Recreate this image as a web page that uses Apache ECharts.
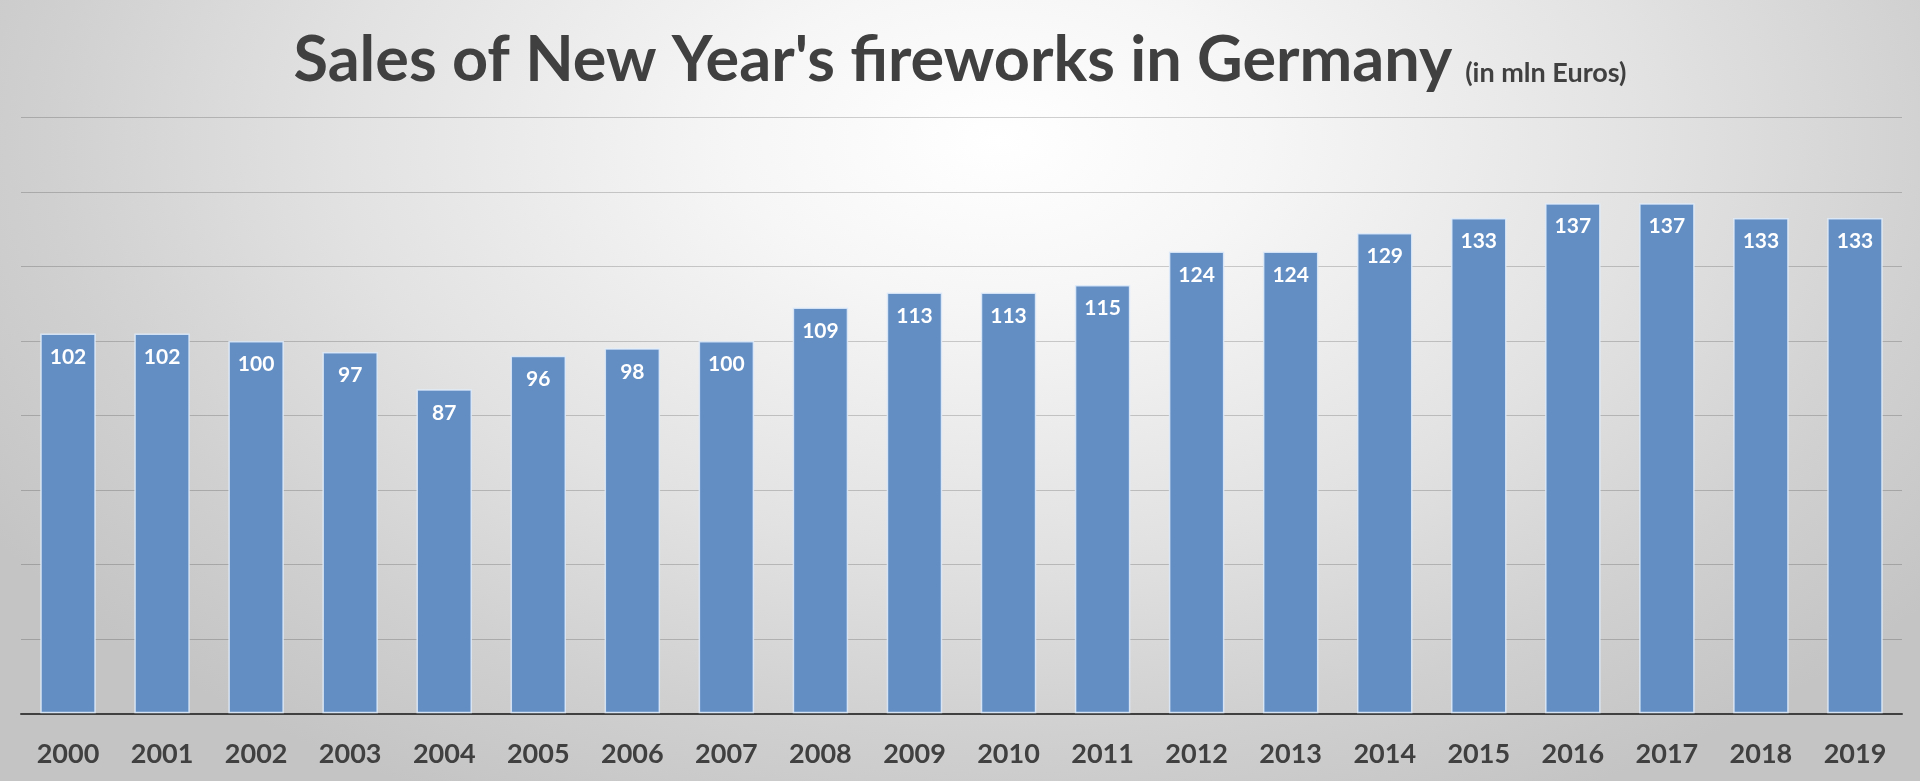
<!DOCTYPE html>
<html>
<head>
<meta charset="utf-8">
<script src="https://cdn.jsdelivr.net/npm/echarts@6/dist/echarts.min.js"></script>
<style>
  html, body { margin: 0; padding: 0; width: 1920px; height: 781px; overflow: hidden; }
  #chart {
    width: 1920px; height: 781px;
    background: radial-gradient(ellipse 62% 95% at 52% 18%, #ffffff 0%, #f6f6f6 22%, #e2e2e2 55%, #d0d0d0 80%, #c4c4c4 100%);
  }
</style>
</head>
<body>
<div id="chart"></div>
<script>
const years = ['2000','2001','2002','2003','2004','2005','2006','2007','2008','2009','2010','2011','2012','2013','2014','2015','2016','2017','2018','2019'];
const sales = [102,102,100,97,87,96,98,100,109,113,113,115,124,124,129,133,137,137,133,133];
const titleMain = "Sales of New Year's fireworks in Germany";
const titleSub = "(in mln Euros)";
const yMin = 0, yMax = 160, yStep = 20;

const chart = echarts.init(document.getElementById('chart'), null, { renderer: 'canvas' });
chart.setOption({
  backgroundColor: 'transparent',
  animation: false,
  title: {
    left: 'center',
    top: 24,
    text: '{a|' + titleMain + '}{b|' + titleSub + '}',
    textStyle: {
      rich: {
        a: { fontFamily: 'Lato', fontWeight: 'bold', fontSize: 63, color: '#404040', verticalAlign: 'bottom' },
        b: { fontFamily: 'Lato', fontWeight: 'bold', fontSize: 27, color: '#404040', verticalAlign: 'bottom', padding: [0, 0, 5, 13] }
      }
    }
  },
  grid: { left: 21, right: 18, top: 117.5, bottom: 67.7, containLabel: false },
  xAxis: {
    type: 'category',
    data: years,
    axisLine: { show: true, lineStyle: { color: '#404040', width: 2 } },
    axisTick: { show: false },
    axisLabel: { fontFamily: 'Lato', fontWeight: 'bold', fontSize: 27, color: '#404040', margin: 27 }
  },
  yAxis: {
    type: 'value',
    min: yMin, max: yMax, interval: yStep,
    axisLine: { show: false },
    axisTick: { show: false },
    axisLabel: { show: false },
    splitLine: { show: true, lineStyle: { color: 'rgba(0,0,0,0.18)', width: 1.2 } }
  },
  series: [{
    type: 'bar',
    data: sales,
    barCategoryGap: '41%',
    itemStyle: { color: '#628ec4', borderColor: 'rgba(225,236,250,0.85)', borderWidth: 1.5 },
    label: {
      show: true, position: 'insideTop', distance: 13,
      fontFamily: 'Lato', fontWeight: 'bold', fontSize: 21, color: '#ffffff'
    }
  }]
});
</script>
</body>
</html>
